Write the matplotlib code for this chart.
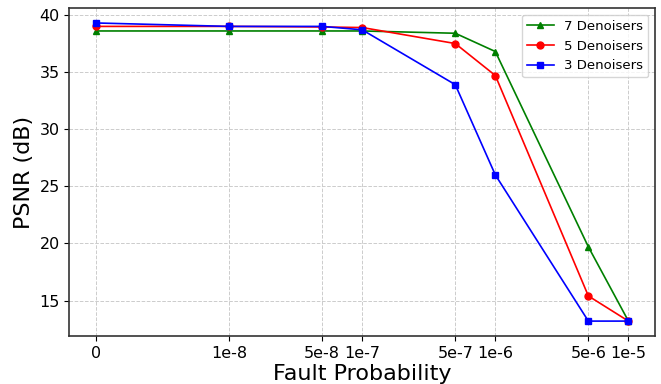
import numpy as np
import matplotlib
matplotlib.use("Agg")
import matplotlib.pyplot as plt

# Fault probabilities (0 drawn one decade left of 1e-8)
x_labels = ["0", "1e-8", "5e-8", "1e-7", "5e-7", "1e-6", "5e-6", "1e-5"]
x_vals = [1e-9, 1e-8, 5e-8, 1e-7, 5e-7, 1e-6, 5e-6, 1e-5]

psnr_7 = [38.6, 38.6, 38.6, 38.6, 38.4, 36.8, 19.7, 13.2]
psnr_5 = [39.0, 39.0, 38.95, 38.9, 37.5, 34.7, 15.4, 13.2]
psnr_3 = [39.3, 39.0, 39.0, 38.7, 33.9, 26.0, 13.2, 13.2]

fig, ax = plt.subplots(figsize=(6.61, 3.84), dpi=100)
fig.subplots_adjust(left=0.105, right=0.991, top=0.979, bottom=0.125)

ax.plot(x_vals, psnr_7, color="green", marker="^", markersize=5, linewidth=1.2, label="7 Denoisers")
ax.plot(x_vals, psnr_5, color="red", marker="o", markersize=5, linewidth=1.2, label="5 Denoisers")
ax.plot(x_vals, psnr_3, color="blue", marker="s", markersize=5, linewidth=1.2, label="3 Denoisers")

ax.set_xscale("log")
ax.set_xticks(x_vals)
ax.set_xticklabels(x_labels)
ax.minorticks_off()
ax.tick_params(axis="both", labelsize=11.5)

ax.set_xlabel("Fault Probability", fontsize=16, labelpad=2)
ax.set_ylabel("PSNR (dB)", fontsize=16)
ax.grid(True, linestyle="--", color="#cccccc", linewidth=0.7)
for s in ax.spines.values():
    s.set_color("#333333")
    s.set_linewidth(1.2)
ax.legend(fontsize=9.5, loc="upper right")

fig.savefig("out.png", dpi=100)
